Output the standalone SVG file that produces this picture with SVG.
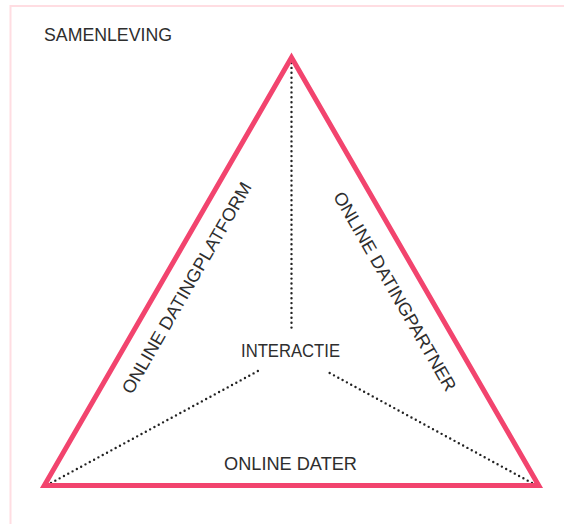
<svg xmlns="http://www.w3.org/2000/svg" width="564" height="524" viewBox="0 0 564 524">
<style>
.lbl{font-family:"Liberation Sans",Arial,sans-serif;font-size:18px;fill:#2e2e2e}
.dot{fill:none;stroke:#222;stroke-width:2.4;stroke-linecap:round;stroke-dasharray:0 4.9}
.tri{fill:none;stroke:#f2446e;stroke-width:5;stroke-linejoin:miter}
</style>
<rect x="10.5" y="6" width="620" height="600" fill="#fff" stroke="#ffdde2" stroke-width="2"/>
<g id="connectors">
<line class="dot" x1="291.5" y1="63" x2="291.5" y2="329"/>
<line class="dot" x1="51" y1="483" x2="258" y2="371"/>
<line class="dot" x1="532" y1="483" x2="326" y2="371"/>
</g>
<g id="triangle">
<polygon class="tri" points="291.5,57.5 538.7,485.5 44.3,485.5"/>
</g>
<g id="samenleving">
<text class="lbl" x="44" y="41" textLength="128" lengthAdjust="spacingAndGlyphs">SAMENLEVING</text>
</g>
<g id="interactie">
<text class="lbl" x="290.5" y="357" text-anchor="middle" textLength="99" lengthAdjust="spacingAndGlyphs">INTERACTIE</text>
</g>
<g id="online-dater">
<text class="lbl" x="290.5" y="469.5" text-anchor="middle" textLength="133" lengthAdjust="spacingAndGlyphs">ONLINE DATER</text>
</g>
<g id="online-datingplatform">
<text class="lbl" transform="translate(192,291) rotate(-60)" x="0" y="0" text-anchor="middle" textLength="241" lengthAdjust="spacingAndGlyphs">ONLINE DATINGPLATFORM</text>
</g>
<g id="online-datingpartner">
<text class="lbl" transform="translate(389.5,294.5) rotate(60)" x="0" y="0" text-anchor="middle" textLength="227" lengthAdjust="spacingAndGlyphs">ONLINE DATINGPARTNER</text>
</g>
</svg>
